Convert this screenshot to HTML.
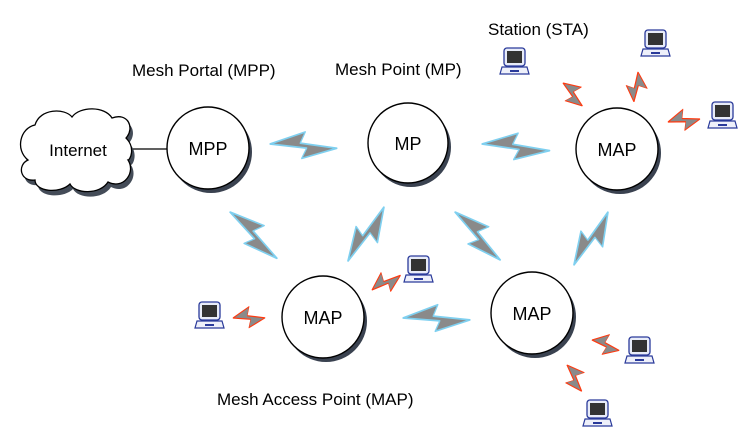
<!DOCTYPE html>
<html><head><meta charset="utf-8"><style>
html,body{margin:0;padding:0;background:#fff;}
svg{display:block;}
text{font-family:"Liberation Sans",sans-serif;fill:#000;}
</style></head><body>
<svg width="753" height="448" viewBox="0 0 753 448" xmlns="http://www.w3.org/2000/svg">
<defs>
<path id="bolt" d="M0,0 L52,-14 L45,-2 L100,2 L48,14 L55,3 Z"/>
<g id="lap">
<rect x="2" y="0" width="21" height="18" rx="3" fill="#e8ecf8" stroke="#2a3a9a" stroke-width="1.3"/>
<rect x="5" y="3" width="15" height="12" fill="#333"/>
<path d="M0,19 L25,19 L27,26 L-2,26 Z" fill="#eef0fa" stroke="#2a3a9a" stroke-width="1.2"/>
<rect x="8" y="22" width="9" height="2" fill="#2a3a9a"/>
</g>
</defs>
<line x1="130" y1="149" x2="168" y2="149" stroke="#000" stroke-width="1.3"/>
<g transform="translate(3,5)"><path d="M35,125 C40,108 65,108 72,117 C80,106 105,106 112,118 C128,112 135,128 126,138 C136,148 130,160 128,160 C136,172 124,190 108,182 C100,195 75,194 70,184 C60,194 35,192 35,180 C20,182 17,165 28,160 C15,150 20,128 35,125 Z" fill="#444c58"/></g>
<path d="M35,125 C40,108 65,108 72,117 C80,106 105,106 112,118 C128,112 135,128 126,138 C136,148 130,160 128,160 C136,172 124,190 108,182 C100,195 75,194 70,184 C60,194 35,192 35,180 C20,182 17,165 28,160 C15,150 20,128 35,125 Z" fill="#fff" stroke="#000" stroke-width="1.3"/>
<text x="78" y="156" font-size="17" text-anchor="middle">Internet</text>
<g stroke="#000" stroke-width="1.4">
<circle cx="211" cy="152" r="41" fill="#3a4250" stroke="none"/><circle cx="208" cy="148" r="41" fill="#fff"/>
<circle cx="411" cy="147" r="40" fill="#3a4250" stroke="none"/><circle cx="408" cy="143" r="40" fill="#fff"/>
<circle cx="620" cy="153" r="41" fill="#3a4250" stroke="none"/><circle cx="617" cy="149" r="41" fill="#fff"/>
<circle cx="326" cy="321" r="41" fill="#3a4250" stroke="none"/><circle cx="323" cy="317" r="41" fill="#fff"/>
<circle cx="535" cy="317" r="41" fill="#3a4250" stroke="none"/><circle cx="532" cy="313" r="41" fill="#fff"/>
</g>
<g font-size="18" text-anchor="middle">
<text x="208" y="155">MPP</text>
<text x="408" y="150">MP</text>
<text x="617" y="156">MAP</text>
<text x="323" y="324">MAP</text>
<text x="532" y="320">MAP</text>
</g>
<g fill="#8a8a8a" stroke="#7fd0f0" stroke-width="1.8" stroke-linejoin="round">
<use href="#bolt" transform="translate(270,144) rotate(2) scale(0.67,0.95)"/>
<use href="#bolt" transform="translate(482,144) rotate(4) scale(0.68,0.95)"/>
<use href="#bolt" transform="translate(230,212) rotate(43) scale(0.66,0.95)"/>
<use href="#bolt" transform="translate(384,207) rotate(122) scale(0.65,0.95)"/>
<use href="#bolt" transform="translate(455,212) rotate(45) scale(0.66,0.95)"/>
<use href="#bolt" transform="translate(608,212) rotate(121) scale(0.63,0.95)"/>
<use href="#bolt" transform="translate(403,318) rotate(0) scale(0.67,0.95)"/>
</g>
<g fill="#8a8a8a" stroke="#ff3a10" stroke-width="1.6" stroke-linejoin="round">
<use href="#bolt" transform="translate(563,83) rotate(47) scale(0.3,0.75)"/>
<use href="#bolt" transform="translate(638,72) rotate(95) scale(0.3,0.75)"/>
<use href="#bolt" transform="translate(668,122) rotate(-8) scale(0.32,0.75)"/>
<use href="#bolt" transform="translate(372,290) rotate(-30) scale(0.32,0.75)"/>
<use href="#bolt" transform="translate(233,318) rotate(-3) scale(0.32,0.75)"/>
<use href="#bolt" transform="translate(592,340) rotate(18) scale(0.29,0.75)"/>
<use href="#bolt" transform="translate(567,365) rotate(58) scale(0.3,0.75)"/>
</g>
<use href="#lap" transform="translate(502,48)"/>
<use href="#lap" transform="translate(643,30)"/>
<use href="#lap" transform="translate(710,102)"/>
<use href="#lap" transform="translate(406,256)"/>
<use href="#lap" transform="translate(197,302)"/>
<use href="#lap" transform="translate(627,337)"/>
<use href="#lap" transform="translate(585,400)"/>
<g font-size="17">
<text x="132" y="76">Mesh Portal (MPP)</text>
<text x="335" y="75">Mesh Point (MP)</text>
<text x="488" y="35">Station (STA)</text>
<text x="217" y="405">Mesh Access Point (MAP)</text>
</g>
</svg>
</body></html>
